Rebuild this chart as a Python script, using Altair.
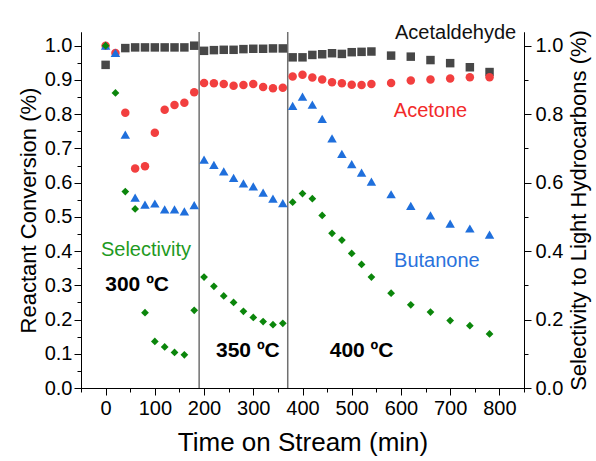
import altair as alt
import pandas as pd

FONT = "Liberation Sans"

# Sampling times (min): every 20 min up to 540, then every 40 min
times = [0, 20, 40, 60, 80, 100, 120, 140, 160, 180,
         200, 220, 240, 260, 280, 300, 320, 340, 360,
         380, 400, 420, 440, 460, 480, 500, 520, 540,
         580, 620, 660, 700, 740, 780]
times_acetaldehyde = [t for t in times if t != 20]

acetaldehyde = [0.944, 0.993, 0.995, 0.995, 0.995, 0.995, 0.995, 0.995, 1.000,
                0.985, 0.987, 0.988, 0.988, 0.990, 0.991, 0.991, 0.992, 0.992,
                0.966, 0.966, 0.973, 0.975, 0.978, 0.976, 0.981, 0.982, 0.983,
                0.971, 0.968, 0.958, 0.949, 0.937, 0.923]
acetone = [1.000, 0.979, 0.804, 0.641, 0.648, 0.746, 0.813, 0.827, 0.833, 0.864,
           0.891, 0.890, 0.888, 0.883, 0.885, 0.888, 0.879, 0.876, 0.877,
           0.910, 0.915, 0.907, 0.901, 0.893, 0.890, 0.886, 0.885, 0.888,
           0.891, 0.898, 0.901, 0.904, 0.908, 0.908]
butanone = [1.000, 0.979, 0.740, 0.556, 0.536, 0.539, 0.522, 0.522, 0.516, 0.534,
            0.667, 0.652, 0.633, 0.614, 0.598, 0.589, 0.571, 0.553, 0.540,
            0.824, 0.851, 0.828, 0.786, 0.729, 0.684, 0.654, 0.629, 0.603,
            0.566, 0.532, 0.504, 0.480, 0.466, 0.448]
selectivity = [1.000, 0.862, 0.574, 0.523, 0.220, 0.136, 0.120, 0.104, 0.097, 0.227,
               0.324, 0.297, 0.269, 0.250, 0.224, 0.206, 0.194, 0.185, 0.189,
               0.543, 0.568, 0.553, 0.504, 0.452, 0.432, 0.393, 0.361, 0.324,
               0.277, 0.243, 0.222, 0.197, 0.182, 0.158]

# Temperature step changes (min)
temperature_steps = [190, 370]

# Annotations
label_text = ["Acetaldehyde", "Acetone", "Butanone", "Selectivity"]
label_time = [711, 660, 673, 82]
label_value = [1.038, 0.810, 0.371, 0.402]
label_color = ["#111111", "#f22a2a", "#2a72dc", "#1f9a1f"]

temp_text = ["300 ºC", "350 ºC", "400 ºC"]
temp_time = [64, 289, 520]
temp_value = [0.300, 0.109, 0.109]

x_scale = alt.Scale(domain=[-50, 850], nice=False, zero=False)
y_scale = alt.Scale(domain=[0, 1.04], nice=False, zero=False)

def series_frame(t, v):
    return pd.DataFrame({"time": t, "value": v})

def points(frame, shape, color, size):
    return alt.Chart(frame).mark_point(
        shape=shape, filled=True, opacity=1, size=size, color=color, strokeWidth=0
    ).encode(
        x=alt.X("time:Q", scale=x_scale, axis=None),
        y=alt.Y("value:Q", scale=y_scale, axis=None),
    )

all_frame = series_frame(times, acetone)

def axis_layer(x_axis, y_axis):
    # invisible layer that only carries an axis
    enc = {"y": alt.Y("value:Q", scale=y_scale, axis=y_axis)}
    enc["x"] = alt.X("time:Q", scale=x_scale, axis=x_axis)
    return alt.Chart(all_frame).mark_point(opacity=0).encode(**enc)

common = dict(grid=False, domainColor="black", tickColor="black", labelColor="black",
              titleColor="black", labelFont=FONT, titleFont=FONT, titleFontWeight="normal",
              domainWidth=1, tickWidth=1)

left_major = alt.Axis(orient="left", values=[round(i * 0.1, 1) for i in range(11)],
                      format=".1f", tickSize=7, labelPadding=2, labelFontSize=20,
                      title="Reactant Conversion (%)", titleFontSize=22, titlePadding=4,
                      **common)
bottom_major = alt.Axis(orient="bottom", values=list(range(0, 801, 100)),
                        tickSize=7, labelPadding=3, labelFontSize=20,
                        title="Time on Stream (min)", titleFontSize=26, titlePadding=11,
                        **common)
left_minor = alt.Axis(orient="left", values=[round(0.05 + i * 0.1, 2) for i in range(10)],
                      tickSize=4, labels=False, title=None, **common)
bottom_minor = alt.Axis(orient="bottom", values=list(range(-50, 851, 100)),
                        tickSize=4, labels=False, title=None, **common)
right_major = alt.Axis(orient="right", values=[round(i * 0.2, 1) for i in range(6)],
                       format=".1f", tickSize=7, labelPadding=4, labelFontSize=20,
                       title="Selectivity to Light Hydrocarbons (%)", titleFontSize=22,
                       titleAngle=270, titleBaseline="top", titlePadding=6, **common)
right_minor = alt.Axis(orient="right", values=[0.1, 0.3, 0.5, 0.7, 0.9],
                       tickSize=4, labels=False, title=None, **common)

rules = alt.Chart(pd.DataFrame({"time": temperature_steps})).mark_rule(
    color="#707070", strokeWidth=1.5
).encode(x=alt.X("time:Q", scale=x_scale, axis=None))

labels = alt.Chart(pd.DataFrame({"time": label_time, "value": label_value,
                                 "text": label_text, "color": label_color})).mark_text(
    font=FONT, fontSize=20, align="center", baseline="middle"
).encode(
    x=alt.X("time:Q", scale=x_scale, axis=None),
    y=alt.Y("value:Q", scale=y_scale, axis=None),
    text="text:N",
    color=alt.Color("color:N", scale=None),
)

temps = alt.Chart(pd.DataFrame({"time": temp_time, "value": temp_value,
                                "text": temp_text})).mark_text(
    font=FONT, fontSize=21, fontWeight="bold", align="center", baseline="middle",
    color="black"
).encode(
    x=alt.X("time:Q", scale=x_scale, axis=None),
    y=alt.Y("value:Q", scale=y_scale, axis=None),
    text="text:N",
)

chart = alt.layer(
    axis_layer(bottom_major, left_major),
    axis_layer(bottom_minor, left_minor),
    axis_layer(None, right_major),
    axis_layer(None, right_minor),
    rules,
    points(series_frame(times_acetaldehyde, acetaldehyde), "square", "#474747", 72),
    points(series_frame(times, acetone), "circle", "#f23f3f", 72),
    points(series_frame(times, butanone), "triangle-up", "#1f6fdc", 90),
    points(series_frame(times, selectivity), "diamond", "#0b860b", 60),
    labels,
    temps,
).resolve_axis(x="independent", y="independent").properties(
    width=443, height=356,
    autosize=alt.AutoSizeParams(type="none"),
    padding={"left": 81, "top": 32, "right": 72, "bottom": 73},
    background="white",
).configure_view(stroke=None)

chart.save("out.html", embed_options={"renderer": "svg", "actions": False})
